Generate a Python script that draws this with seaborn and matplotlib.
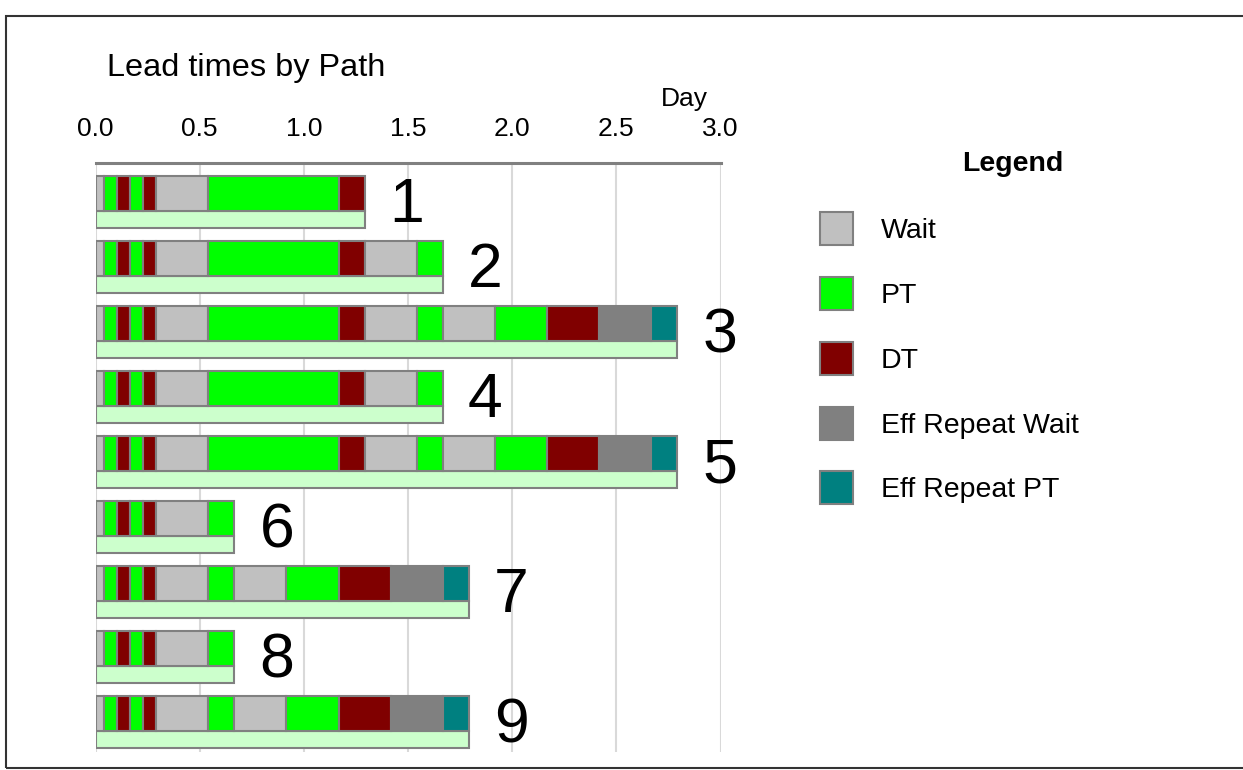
import numpy as np
import pandas as pd
import seaborn as sns
import matplotlib.pyplot as plt
from matplotlib.patches import Patch, Rectangle

# Data: step durations per path, in hours
paths = ['1', '2', '3', '4', '5', '6', '7', '8', '9']

types_1 = ['Wait', 'PT', 'DT', 'PT', 'DT', 'Wait', 'PT', 'DT']
hours_1 = [1, 1.5, 1.5, 1.5, 1.5, 6, 15, 3]
types_2 = ['Wait', 'PT', 'DT', 'PT', 'DT', 'Wait', 'PT', 'DT', 'Wait', 'PT']
hours_2 = [1, 1.5, 1.5, 1.5, 1.5, 6, 15, 3, 6, 3]
types_3 = ['Wait', 'PT', 'DT', 'PT', 'DT', 'Wait', 'PT', 'DT', 'Wait', 'PT',
           'Wait', 'PT', 'DT', 'Eff Repeat Wait', 'Eff Repeat PT']
hours_3 = [1, 1.5, 1.5, 1.5, 1.5, 6, 15, 3, 6, 3, 6, 6, 6, 6, 3]
types_4 = ['Wait', 'PT', 'DT', 'PT', 'DT', 'Wait', 'PT', 'DT', 'Wait', 'PT']
hours_4 = [1, 1.5, 1.5, 1.5, 1.5, 6, 15, 3, 6, 3]
types_5 = ['Wait', 'PT', 'DT', 'PT', 'DT', 'Wait', 'PT', 'DT', 'Wait', 'PT',
           'Wait', 'PT', 'DT', 'Eff Repeat Wait', 'Eff Repeat PT']
hours_5 = [1, 1.5, 1.5, 1.5, 1.5, 6, 15, 3, 6, 3, 6, 6, 6, 6, 3]
types_6 = ['Wait', 'PT', 'DT', 'PT', 'DT', 'Wait', 'PT']
hours_6 = [1, 1.5, 1.5, 1.5, 1.5, 6, 3]
types_7 = ['Wait', 'PT', 'DT', 'PT', 'DT', 'Wait', 'PT', 'Wait', 'PT', 'DT',
           'Eff Repeat Wait', 'Eff Repeat PT']
hours_7 = [1, 1.5, 1.5, 1.5, 1.5, 6, 3, 6, 6, 6, 6, 3]
types_8 = ['Wait', 'PT', 'DT', 'PT', 'DT', 'Wait', 'PT']
hours_8 = [1, 1.5, 1.5, 1.5, 1.5, 6, 3]
types_9 = ['Wait', 'PT', 'DT', 'PT', 'DT', 'Wait', 'PT', 'Wait', 'PT', 'DT',
           'Eff Repeat Wait', 'Eff Repeat PT']
hours_9 = [1, 1.5, 1.5, 1.5, 1.5, 6, 3, 6, 6, 6, 6, 3]

all_types = [types_1, types_2, types_3, types_4, types_5, types_6, types_7, types_8, types_9]
all_hours = [hours_1, hours_2, hours_3, hours_4, hours_5, hours_6, hours_7, hours_8, hours_9]

legend_labels = ['Wait', 'PT', 'DT', 'Eff Repeat Wait', 'Eff Repeat PT']
colors = {'Wait': '#c0c0c0', 'PT': '#00ff00', 'DT': '#800000',
          'Eff Repeat Wait': '#808080', 'Eff Repeat PT': '#008080'}
total_color = '#ccffcc'
edge = '#808080'

sns.set_theme(style='white')
plt.rcParams['font.family'] = ['Liberation Sans', 'DejaVu Sans']
plt.rcParams['text.color'] = 'black'
plt.rcParams['axes.labelcolor'] = 'black'
plt.rcParams['xtick.color'] = 'black'

W, H = 1243, 770
fig = plt.figure(figsize=(W / 100, H / 100), dpi=100)
ax = fig.add_axes([95.5 / W, 1 - 752 / H, 625 / W, 589 / H])

# total lead time row (thin light bar)
totals = [sum(h) / 24 for h in all_hours]
df = pd.DataFrame({'path': paths, 'days': totals})
sns.barplot(data=df, x='days', y='path', orient='h', color=total_color, saturation=1,
            width=0.26, edgecolor=edge, linewidth=1.5, ax=ax)

# stacked step segments above each total bar
for i, (tps, hrs) in enumerate(zip(all_types, all_hours)):
    days = np.array(hrs) / 24
    left = np.concatenate([[0], np.cumsum(days)[:-1]])
    ax.barh(i - 0.40, days, left=left, height=0.54,
            color=[colors[t] for t in tps], edgecolor=edge, linewidth=1.5)
    ax.text(totals[i] + 0.12, i + 0.04, paths[i], fontsize=45, ha='left', va='baseline')

ax.set_xlim(0, 3)
ax.set_ylim(8.19, -0.87)
ax.set_xticks(np.arange(0, 3.01, 0.5))
ax.set_xticklabels([f'{v:.1f}' for v in np.arange(0, 3.01, 0.5)])
ax.set_yticks([])
ax.set_ylabel('')
ax.xaxis.tick_top()
ax.tick_params(axis='x', length=0, pad=16, labelsize=19, colors='black')
ax.set_axisbelow(True)
ax.xaxis.grid(True, color='#d9d9d9', linewidth=1.5)
ax.yaxis.grid(False)
for s in ['left', 'right', 'bottom']:
    ax.spines[s].set_visible(False)
ax.spines['top'].set_color(edge)
ax.spines['top'].set_linewidth(2.2)

ax.set_xlabel('Day', fontsize=19)
ax.xaxis.set_label_position('top')
ax.xaxis.set_label_coords((684 - 95.5) / 625, 1 + (163 - 106) / 589)
ax.xaxis.label.set_va('baseline')

fig.text(107 / W, 1 - 76 / H, 'Lead times by Path', fontsize=23.4, va='baseline')

# legend
handles = [Patch(facecolor=colors[k], edgecolor=edge, linewidth=1.5) for k in legend_labels]
fig.legend(handles, legend_labels, loc='upper left', bbox_to_anchor=(820 / W, 1 - 212 / H),
           frameon=False, fontsize=20.5, handlelength=1.16, handleheight=1.405,
           labelspacing=1.12, handletextpad=0.98, borderpad=0, borderaxespad=0)
fig.text(1013 / W, 1 - 171 / H, 'Legend', fontsize=20.5, weight='bold', ha='center', va='baseline')

# outer frame
fig.add_artist(Rectangle((6 / W, 1 - 768 / H), 1.2, 752 / H, transform=fig.transFigure,
                         fill=False, edgecolor='#333333', linewidth=1.5))

fig.savefig('out.png', dpi=100)
